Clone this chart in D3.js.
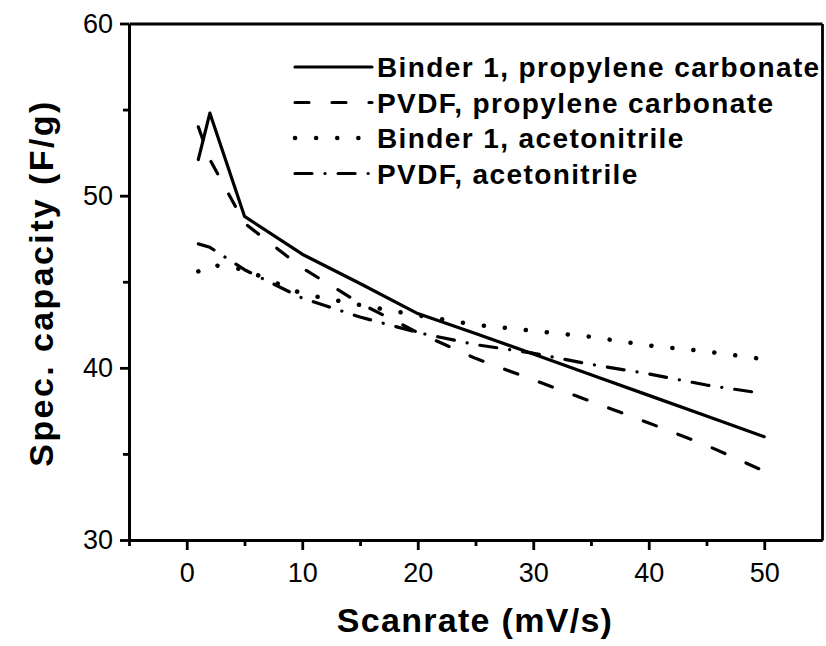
<!DOCTYPE html>
<html>
<head>
<meta charset="utf-8">
<script src="https://cdn.jsdelivr.net/npm/d3@7"></script>
<style>
  body { margin: 0; background: #fff; }
  svg { display: block; font-family: "Liberation Sans", Arial, sans-serif; }
  .axis path, .axis line { stroke: #000; stroke-width: 2.8px; }
  .axis text { font-size: 27px; fill: #000; }
  .line { fill: none; stroke: #000; stroke-width: 3.2px; stroke-linecap: round; stroke-linejoin: round; }
  .legend text { font-size: 28px; font-weight: bold; letter-spacing: 1.4px; }
  .title { font-size: 34px; font-weight: bold; }
</style>
</head>
<body>
<script>
// values
const scanRate  = [1, 2, 5, 10, 15, 20, 25, 30, 35, 40, 45, 50];
const binder1PC = [52.1, 54.8, 48.8, 46.6, 44.9, 43.15, 42.0, 40.8, 39.6, 38.4, 37.2, 36.0];
const pvdfPC    = [54.0, 52.1, 48.4, 45.8, 43.75, 42.05, 40.55, 39.3, 38.05, 36.8, 35.5, 34.0];
const binder1AN = [45.6, 46.0, 45.7, 44.3, 43.65, 43.05, 42.5, 42.15, 41.8, 41.3, 40.95, 40.5];
const pvdfAN    = [47.2, 47.0, 45.7, 44.05, 42.95, 42.05, 41.35, 40.85, 40.2, 39.65, 39.0, 38.5];

const seriesNames = ["Binder 1, propylene carbonate", "PVDF, propylene carbonate",
                     "Binder 1, acetonitrile", "PVDF, acetonitrile"];
const xTicks = [0, 10, 20, 30, 40, 50];
const xMinor = [-5, 5, 15, 25, 35, 45];
const yTicks = [30, 40, 50, 60];
const yMinor = [35, 45, 55];

const series = [binder1PC, pvdfPC, binder1AN, pvdfAN];
const dashes = [null, "14,23", "0.1,21", "17,13,0.1,13"];
const widths = [3.2, 3.2, 4.5, 3.2];

let width = 826, height = 646;
let plot = {left: 129, right: 822, top: 23.5, bottom: 540};

let svg = d3.select("body").append("svg")
    .attr("width", width)
    .attr("height", height);

let x = d3.scaleLinear().domain([-5, 55]).range([plot.left, plot.right]);
let y = d3.scaleLinear().domain([30, 60]).range([plot.bottom, plot.top]);

// frame: top and right edges without ticks
svg.append("g").attr("class", "axis")
    .attr("transform", `translate(0,${plot.top})`)
    .call(d3.axisTop(x).tickValues([]).tickSizeOuter(0));
svg.append("g").attr("class", "axis")
    .attr("transform", `translate(${plot.right},0)`)
    .call(d3.axisRight(y).tickValues([]).tickSizeOuter(0));

// minor ticks
svg.append("g").attr("class", "axis")
    .attr("transform", `translate(0,${plot.bottom})`)
    .call(d3.axisBottom(x).tickValues(xMinor).tickSize(6).tickSizeOuter(0).tickFormat(""));
svg.append("g").attr("class", "axis")
    .attr("transform", `translate(${plot.left},0)`)
    .call(d3.axisLeft(y).tickValues(yMinor).tickSize(6).tickSizeOuter(0).tickFormat(""));

// major ticks
svg.append("g").attr("class", "axis")
    .attr("transform", `translate(0,${plot.bottom})`)
    .call(d3.axisBottom(x).tickValues(xTicks).tickSize(10).tickSizeOuter(0).tickPadding(8))
    .selectAll("text").attr("dy", "0.9em");
svg.append("g").attr("class", "axis")
    .attr("transform", `translate(${plot.left},0)`)
    .call(d3.axisLeft(y).tickValues(yTicks).tickSize(9).tickSizeOuter(0).tickPadding(7));

let line = d3.line()
    .x((d, i) => x(scanRate[i]))
    .y(d => y(d));

series.forEach((s, k) => {
    svg.append("path")
        .datum(s)
        .attr("class", "line")
        .attr("stroke-dasharray", dashes[k])
        .style("stroke-width", widths[k])
        .attr("d", line);
});

// legend
let legend = svg.append("g").attr("class", "legend");
seriesNames.forEach((name, k) => {
    let ly = 67 + k * 35.5;
    legend.append("line")
        .attr("class", "line")
        .attr("x1", 295).attr("x2", 372)
        .attr("y1", ly).attr("y2", ly)
        .attr("stroke-dasharray", dashes[k])
        .style("stroke-width", widths[k]);
    legend.append("text")
        .attr("x", 377).attr("y", ly)
        .attr("dy", "0.36em")
        .text(name);
});

// axis titles
svg.append("text")
    .attr("class", "title")
    .attr("x", 475).attr("y", 632)
    .attr("text-anchor", "middle")
    .style("letter-spacing", "1.3px")
    .text("Scanrate (mV/s)");

svg.append("text")
    .attr("class", "title")
    .attr("transform", "translate(53,283) rotate(-90)")
    .attr("text-anchor", "middle")
    .style("letter-spacing", "2.4px")
    .text("Spec. capacity (F/g)");
</script>
</body>
</html>
